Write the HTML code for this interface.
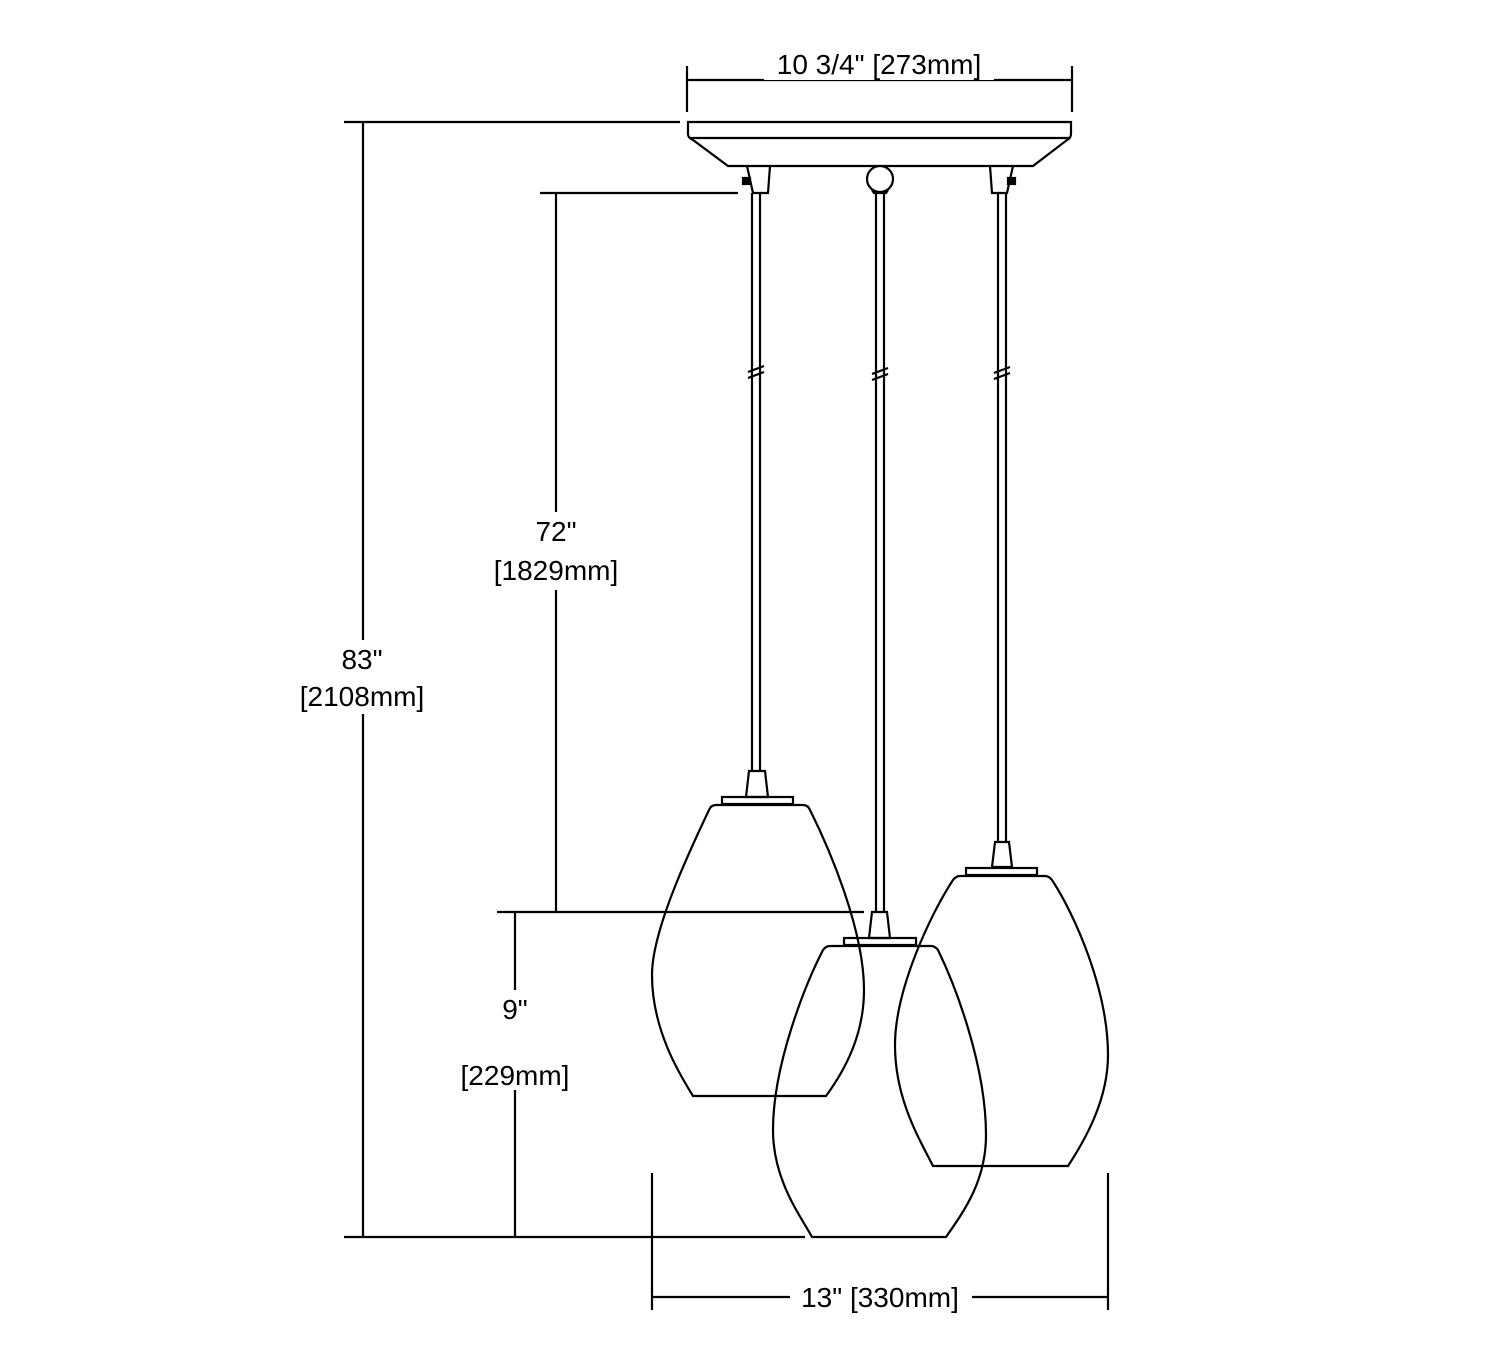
<!DOCTYPE html>
<html><head><meta charset="utf-8"><style>
body{margin:0;background:#fff}
svg{display:block}
text{font-family:"Liberation Sans",Arial,sans-serif;font-size:28px;fill:#000;text-anchor:middle}
</style></head><body>
<svg width="1500" height="1365" viewBox="0 0 1500 1365" xmlns="http://www.w3.org/2000/svg">
<g fill="none" stroke="#000" stroke-width="2.2">
<line x1="687" y1="66" x2="687" y2="112"/><line x1="1072" y1="66" x2="1072" y2="112"/>
<line x1="687" y1="80" x2="1072" y2="80"/>
<path d="M688,122 L1071,122 L1071,134 Q1071,138 1067,140 L1033,166 L728,166 L693,140 Q688,138 688,134 Z" fill="#fff"/>
<line x1="690" y1="138" x2="1069" y2="138"/>
<path d="M747,166 L753,193 L768,193 L770,166"/>
<rect x="743" y="178" width="7" height="6" fill="#000"/>
<path d="M990,166 L992,193 L1007,193 L1013,166"/>
<rect x="1008" y="178" width="7" height="6" fill="#000"/>
<circle cx="880" cy="179" r="13" fill="#fff"/>
<path d="M872,190 L874,193 L886,193 L888,190"/>
<line x1="752" y1="193" x2="752" y2="771"/><line x1="760" y1="193" x2="760" y2="771"/>
<line x1="876" y1="193" x2="876" y2="912"/><line x1="884" y1="193" x2="884" y2="912"/>
<line x1="998" y1="193" x2="998" y2="842"/><line x1="1006" y1="193" x2="1006" y2="842"/>
<path d="M748,372 L764,366 M748,378 L764,372"/>
<path d="M872,374 L888,368 M872,380 L888,374"/>
<path d="M994,373 L1010,367 M994,379 L1010,373"/>
<path d="M749,771 L746,797 L768,797 L765,771 Z"/>
<rect x="722" y="797" width="71" height="7"/>
<path d="M716,805 Q711,805 709,810 C690,850 652,930 652,975 C652,1030 680,1075 693,1096 L826,1096 C845,1070 864,1035 864,990 C864,930 830,850 810,810 Q808,805 803,805 Z"/>
<path d="M995,842 L992,867 L1012,867 L1009,842 Z"/>
<rect x="966" y="868" width="71" height="7"/>
<path d="M960,876 Q956,876 953,880 C930,915 895,990 895,1045 C895,1100 920,1140 933,1166 L1068,1166 C1085,1140 1108,1100 1108,1055 C1108,990 1075,915 1052,880 Q1049,876 1045,876 Z"/>
<path d="M872,912 L869,938 L890,938 L887,912 Z"/>
<rect x="844" y="938" width="72" height="7"/>
<path d="M830,946 Q826,946 823,950 C805,985 773,1065 773,1130 C773,1180 800,1215 812,1237 L946,1237 C965,1210 986,1180 986,1135 C986,1065 955,985 938,950 Q935,946 931,946 Z"/>
<line x1="344" y1="122" x2="680" y2="122"/><line x1="344" y1="1237" x2="805" y2="1237"/>
<line x1="363" y1="122" x2="363" y2="1237"/>
<line x1="540" y1="193" x2="738" y2="193"/>
<line x1="497" y1="912" x2="864" y2="912"/>
<line x1="556" y1="193" x2="556" y2="912"/>
<line x1="515" y1="912" x2="515" y2="1237"/>
<line x1="652" y1="1173" x2="652" y2="1310"/><line x1="1108" y1="1173" x2="1108" y2="1310"/>
<line x1="652" y1="1297" x2="1108" y2="1297"/>
</g>
<g fill="#fff">
<rect x="764" y="48" width="230" height="32"/>
<rect x="288" y="640" width="150" height="74"/>
<rect x="482" y="512" width="148" height="78"/>
<rect x="450" y="990" width="130" height="100"/>
<rect x="790" y="1280" width="182" height="34"/>
</g>
<text x="879" y="74">10 3/4" [273mm]</text>
<text x="362" y="669">83"</text>
<text x="362" y="706">[2108mm]</text>
<text x="556" y="541">72"</text>
<text x="556" y="580">[1829mm]</text>
<text x="515" y="1019">9"</text>
<text x="515" y="1085">[229mm]</text>
<text x="880" y="1307">13" [330mm]</text>
</svg>
</body></html>
